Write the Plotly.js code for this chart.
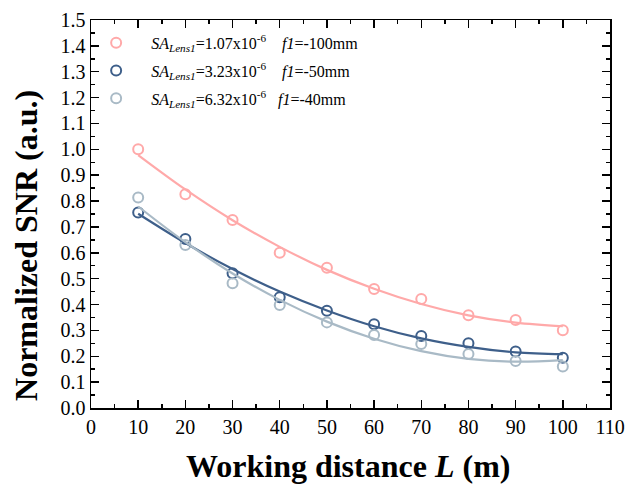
<!DOCTYPE html>
<html>
<head>
<meta charset="utf-8">
<script src="https://cdn.plot.ly/plotly-3.0.1.min.js"></script>
<style>html,body{margin:0;padding:0;background:#fff;}#chart{width:628px;height:488px;}</style>
</head>
<body>
<div id="chart"></div>
<script>
// Working distance L (m)
const distance = [10, 20, 30, 40, 50, 60, 70, 80, 90, 100];
// Measured normalized SNR
const snrF100 = [1.000, 0.826, 0.727, 0.600, 0.542, 0.460, 0.421, 0.359, 0.340, 0.301];
const snrF50  = [0.756, 0.653, 0.521, 0.428, 0.376, 0.324, 0.278, 0.250, 0.218, 0.194];
const snrF40  = [0.814, 0.630, 0.482, 0.398, 0.331, 0.282, 0.247, 0.209, 0.182, 0.160];
// Fitted curves
const fitF100 = [0.978, 0.845, 0.726, 0.623, 0.534, 0.461, 0.402, 0.358, 0.330, 0.316];
const fitF50  = [0.751, 0.638, 0.537, 0.450, 0.377, 0.316, 0.269, 0.236, 0.215, 0.208];
const fitF40  = [0.779, 0.641, 0.520, 0.418, 0.334, 0.268, 0.220, 0.190, 0.179, 0.185];
const seriesNames = [
  "<i>SA</i><sub><i>Lens1</i></sub>=1.07x10<sup>-6</sup>    <i>f1</i>=-100mm",
  "<i>SA</i><sub><i>Lens1</i></sub>=3.23x10<sup>-6</sup>    <i>f1</i>=-50mm",
  "<i>SA</i><sub><i>Lens1</i></sub>=6.32x10<sup>-6</sup>   <i>f1</i>=-40mm"
];
const xTitle = "<b>Working distance <i>L</i> (m)</b>";
const yTitle = "<b>Normalized SNR (a.u.)</b>";
const colors = ["#FFA9A9", "#3E5F8A", "#A9BAC6"];

const measured = [snrF100, snrF50, snrF40];
const fits = [fitF100, fitF50, fitF40];
const traces = [];
measured.forEach((ys, i) => {
  traces.push({
    x: distance, y: ys, type: "scatter", mode: "markers", name: seriesNames[i],
    legendgroup: "g" + i,
    marker: {symbol: "circle-open", size: 10, color: colors[i], line: {width: 2, color: colors[i]}},
    showlegend: true
  });
});
fits.forEach((ys, i) => {
  traces.push({
    x: distance, y: ys, type: "scatter", mode: "lines", legendgroup: "g" + i,
    line: {color: colors[i], width: 2.2, shape: "spline", smoothing: 1},
    showlegend: false, hoverinfo: "skip"
  });
});

const serif = "Liberation Serif, Times New Roman, serif";
const layout = {
  width: 628, height: 488,
  margin: {l: 91, r: 18, t: 20, b: 80},
  paper_bgcolor: "#fff", plot_bgcolor: "#fff",
  showlegend: true,
  legend: {
    x: -0.019, y: 0.985, xanchor: "left", yanchor: "top",
    bgcolor: "rgba(0,0,0,0)", borderwidth: 0,
    font: {family: serif, size: 16, color: "#000"},
    itemwidth: 60, tracegroupgap: 4
  },
  xaxis: {
    range: [0, 110], dtick: 10, tick0: 0,
    showgrid: false, zeroline: false,
    showline: true, linecolor: "#000", linewidth: 1.5, mirror: "allticks",
    ticks: "inside", ticklen: 8, tickwidth: 1.5, tickcolor: "#000",
    minor: {ticks: "inside", dtick: 5, ticklen: 4, tickwidth: 1.5, tickcolor: "#000", showgrid: false},
    tickfont: {family: serif, size: 20, color: "#000"}
  },
  yaxis: {
    range: [0, 1.5], dtick: 0.1, tick0: 0, tickformat: ".1f",
    showgrid: false, zeroline: false,
    showline: true, linecolor: "#000", linewidth: 1.5, mirror: "allticks",
    ticks: "inside", ticklen: 8, tickwidth: 1.5, tickcolor: "#000",
    minor: {ticks: "inside", dtick: 0.05, ticklen: 4, tickwidth: 1.5, tickcolor: "#000", showgrid: false},
    tickfont: {family: serif, size: 20, color: "#000"}
  },
  annotations: [
    {text: xTitle, xref: "paper", yref: "paper", x: 0.495, y: -0.15, xanchor: "center", yanchor: "middle",
     showarrow: false, font: {family: serif, size: 32, color: "#000"}},
    {text: yTitle, xref: "paper", yref: "paper", x: -0.125, y: 0.418, xanchor: "center", yanchor: "middle",
     textangle: -90, showarrow: false, font: {family: serif, size: 32, color: "#000"}}
  ]
};
Plotly.newPlot("chart", traces, layout, {displayModeBar: false, staticPlot: true});
</script>
</body>
</html>
